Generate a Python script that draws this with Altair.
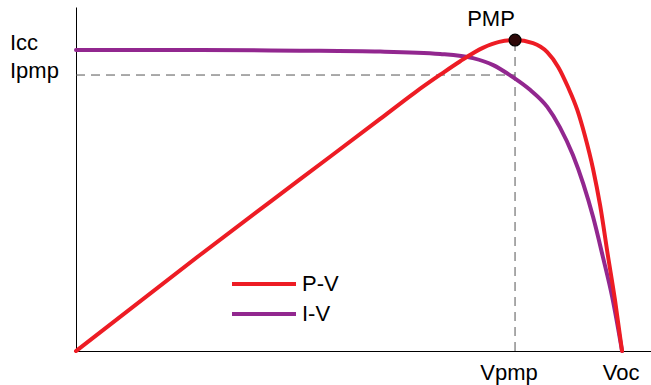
import altair as alt
import pandas as pd

# I-V curve (normalised current vs normalised voltage)
iv_voltage = [0, 0.227, 0.410, 0.557, 0.667, 0.727, 0.764, 0.800, 0.832, 0.863, 0.886,
              0.910, 0.929, 0.947, 0.965, 0.982, 1.0]
iv_current = [1.0, 1.0, 0.998, 0.995, 0.987, 0.973, 0.950, 0.910, 0.867, 0.811, 0.744,
              0.651, 0.555, 0.445, 0.312, 0.179, 0.0]

# P-V curve (scaled power vs normalised voltage)
pv_voltage = [0, 0.227, 0.410, 0.557, 0.620, 0.667, 0.703, 0.745, 0.775, 0.804, 0.837,
              0.863, 0.883, 0.901, 0.918, 0.932, 0.947, 0.960, 0.974, 0.987, 1.0]
pv_power = [0, 0.319, 0.570, 0.771, 0.858, 0.918, 0.962, 1.007, 1.027, 1.033, 1.023,
            0.993, 0.944, 0.877, 0.801, 0.715, 0.604, 0.482, 0.318, 0.170, 0.0]

# Characteristic points
V_PMP, V_OC = 0.804, 1.0
I_PMP, I_CC = 0.917, 1.0
P_MP = 1.033

series_names = ["P-V", "I-V"]
series_colors = ["#ED1C24", "#92278F"]

X_MAX = 1.053
Y_MAX = 1.143
FONT = "Liberation Sans"

curves = pd.concat([
    pd.DataFrame({"v": pv_voltage, "y": pv_power, "curve": "P-V", "order": range(len(pv_voltage))}),
    pd.DataFrame({"v": iv_voltage, "y": iv_current, "curve": "I-V", "order": range(len(iv_voltage))}),
])

xs = alt.Scale(domain=[0, X_MAX], nice=False, zero=True)
ys = alt.Scale(domain=[0, Y_MAX], nice=False, zero=True)
colors = alt.Scale(domain=series_names, range=series_colors)

bare_axis = dict(domain=True, domainColor="black", domainWidth=1, ticks=False,
                 labels=False, grid=False, title=None)

base = alt.Chart(curves)

iv_line = base.transform_filter(alt.datum.curve == "I-V").mark_line(
    strokeWidth=4, interpolate="monotone", strokeCap="round"
).encode(
    x=alt.X("v:Q", scale=xs, axis=alt.Axis(**bare_axis)),
    y=alt.Y("y:Q", scale=ys, axis=alt.Axis(**bare_axis)),
    color=alt.Color("curve:N", scale=colors,
                    legend=alt.Legend(
                        orient="none", legendX=177, legendY=266, title=None, padding=0,
                        symbolType="M-4,0H4", symbolSize=256, symbolStrokeWidth=4,
                        labelFont=FONT, labelFontSize=22, labelColor="black",
                        labelOffset=27, rowPadding=8,
                    )),
    order="order:Q",
)

pv_line = base.transform_filter(alt.datum.curve == "P-V").mark_line(
    strokeWidth=4, interpolate="monotone", strokeCap="round"
).encode(
    x=alt.X("v:Q", scale=xs),
    y=alt.Y("y:Q", scale=ys),
    color=alt.Color("curve:N", scale=colors),
    order="order:Q",
)

pmp = pd.DataFrame({"v": [V_PMP], "p": [P_MP], "i": [I_PMP], "zero": [0.0], "label": ["PMP"]})

dash_style = dict(color="#555555", strokeWidth=1, strokeDash=[9, 6])
h_dash = alt.Chart(pmp).mark_rule(**dash_style).encode(
    x=alt.X("zero:Q", scale=xs), x2="v:Q", y=alt.Y("i:Q", scale=ys)
)
v_dash = alt.Chart(pmp).mark_rule(**dash_style).encode(
    x=alt.X("v:Q", scale=xs), y=alt.Y("zero:Q", scale=ys), y2="p:Q"
)

point = alt.Chart(pmp).mark_point(
    shape="circle", filled=True, size=140, fill="#2e0808", stroke="black",
    strokeWidth=1.2, opacity=1
).encode(x=alt.X("v:Q", scale=xs), y=alt.Y("p:Q", scale=ys))

pmp_label = alt.Chart(pmp).mark_text(
    font=FONT, fontSize=22, align="center", baseline="alphabetic", dx=-24, dy=-14, color="black"
).encode(x=alt.X("v:Q", scale=xs), y=alt.Y("p:Q", scale=ys), text="label:N")

# Axis markers
y_marks = pd.DataFrame({"val": [I_CC, I_PMP], "label": ["Icc", "Ipmp"], "zero": [0.0, 0.0]})
icc_text = alt.Chart(y_marks.iloc[[0]]).mark_text(
    font=FONT, fontSize=22, align="left", baseline="middle", dx=-66, dy=-7, color="black"
).encode(x=alt.X("zero:Q", scale=xs), y=alt.Y("val:Q", scale=ys), text="label:N")
ipmp_text = alt.Chart(y_marks.iloc[[1]]).mark_text(
    font=FONT, fontSize=22, align="left", baseline="middle", dx=-66, dy=-4, color="black"
).encode(x=alt.X("zero:Q", scale=xs), y=alt.Y("val:Q", scale=ys), text="label:N")

x_marks = pd.DataFrame({"val": [V_PMP, V_OC], "label": ["Vpmp", "Voc"], "zero": [0.0, 0.0]})
vpmp_text = alt.Chart(x_marks.iloc[[0]]).mark_text(
    font=FONT, fontSize=22, align="center", baseline="alphabetic", dx=-6, dy=29, color="black"
).encode(x=alt.X("val:Q", scale=xs), y=alt.Y("zero:Q", scale=ys), text="label:N")
voc_text = alt.Chart(x_marks.iloc[[1]]).mark_text(
    font=FONT, fontSize=22, align="center", baseline="alphabetic", dx=-1, dy=29, color="black"
).encode(x=alt.X("val:Q", scale=xs), y=alt.Y("zero:Q", scale=ys), text="label:N")

chart = alt.layer(
    h_dash, v_dash, iv_line, pv_line, point, pmp_label,
    icc_text, ipmp_text, vpmp_text, voc_text,
).properties(
    width=575, height=344,
    autosize=alt.AutoSizeParams(type="none"),
    padding={"left": 76, "top": 7, "right": 0, "bottom": 34},
    background="white",
).configure_view(stroke=None)

chart.save("out.html", embed_options={"renderer": "svg", "actions": False})
